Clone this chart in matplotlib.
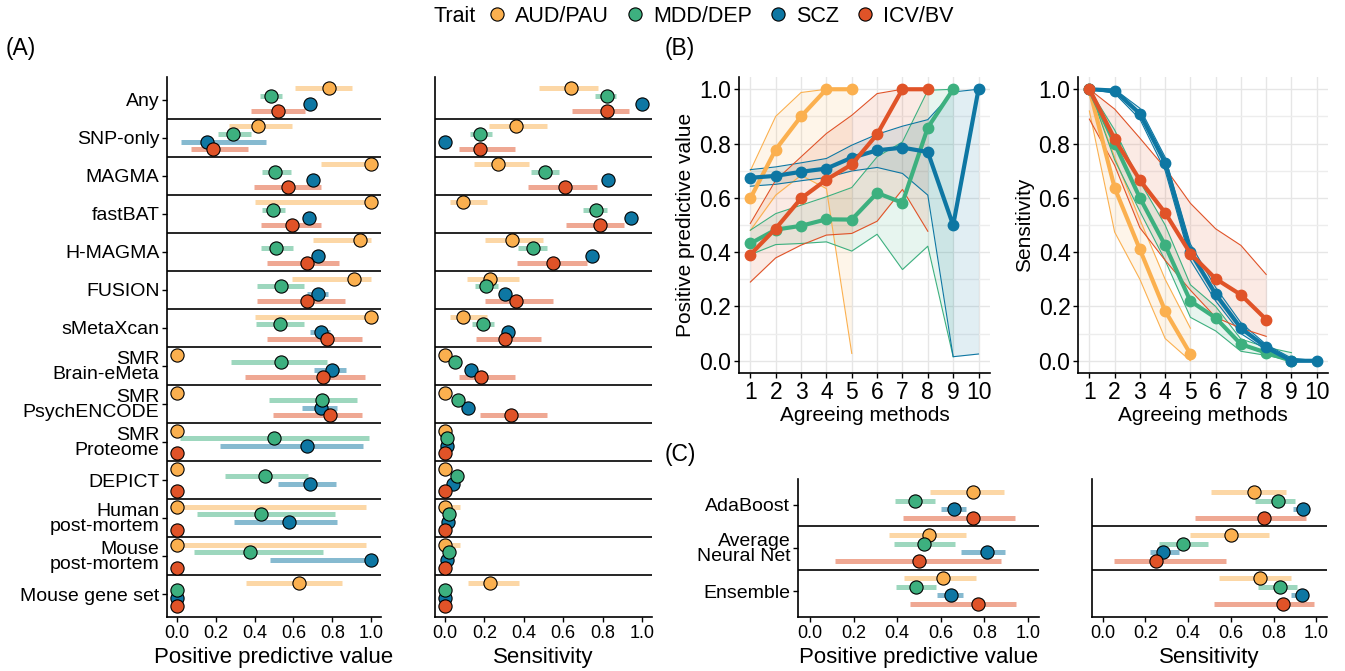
import numpy as np
import matplotlib
matplotlib.use("Agg")
import matplotlib.pyplot as plt
from matplotlib.lines import Line2D
from matplotlib.ticker import MultipleLocator

plt.rcParams['font.family'] = ['Liberation Sans', 'DejaVu Sans']

nan = np.nan

traits = ["AUD/PAU", "MDD/DEP", "SCZ", "ICV/BV"]
colors = {"AUD/PAU": "#FBB04F", "MDD/DEP": "#3DB07F", "SCZ": "#0E77A3", "ICV/BV": "#E05328"}

methods = ["Any", "SNP-only", "MAGMA", "fastBAT", "H-MAGMA", "FUSION", "sMetaXcan",
           "SMR\nBrain-eMeta", "SMR\nPsychENCODE", "SMR\nProteome", "DEPICT",
           "Human\npost-mortem", "Mouse\npost-mortem", "Mouse gene set"]

# (A) positive predictive value per method
ppv_est = {
    "AUD/PAU": [0.78, 0.42, 1.0, 1.0, 0.94, 0.91, 1.0, 0, 0, 0, 0, 0, 0, 0.63],
    "MDD/DEP": [0.485, 0.29, 0.507, 0.493, 0.51, 0.537, 0.532, 0.534, 0.748, 0.50, 0.454, 0.434, 0.378, 0.0],
    "SCZ":     [0.684, 0.157, 0.70, 0.68, 0.724, 0.726, 0.743, 0.798, 0.74, 0.668, 0.684, 0.575, 1.0, 0.0],
    "ICV/BV":  [0.52, 0.187, 0.57, 0.59, 0.667, 0.667, 0.774, 0.75, 0.786, 0, 0, 0, 0, 0],
}
ppv_lo = {
    "AUD/PAU": [0.61, 0.27, 0.74, 0.40, 0.70, 0.59, 0.40, nan, nan, nan, nan, 0.0, 0.0, 0.355],
    "MDD/DEP": [0.43, 0.21, 0.44, 0.44, 0.434, 0.413, 0.405, 0.279, 0.476, 0.015, 0.247, 0.102, 0.088, nan],
    "SCZ":     [0.66, 0.02, 0.68, 0.66, 0.70, 0.667, 0.687, 0.706, 0.646, 0.224, 0.52, 0.292, 0.48, nan],
    "ICV/BV":  [0.38, 0.075, 0.395, 0.434, 0.463, 0.41, 0.463, 0.352, 0.493, nan, nan, nan, nan, nan],
}
ppv_hi = {
    "AUD/PAU": [0.90, 0.59, 1.0, 1.0, 1.0, 1.0, 1.0, nan, nan, nan, nan, 0.973, 0.973, 0.85],
    "MDD/DEP": [0.54, 0.38, 0.585, 0.556, 0.595, 0.655, 0.655, 0.772, 0.929, 0.986, 0.677, 0.815, 0.753, nan],
    "SCZ":     [0.71, 0.46, 0.72, 0.70, 0.75, 0.777, 0.79, 0.869, 0.825, 0.957, 0.82, 0.823, 1.0, nan],
    "ICV/BV":  [0.66, 0.366, 0.74, 0.74, 0.835, 0.866, 0.95, 0.969, 0.952, nan, nan, nan, nan, nan],
}

# (A) sensitivity per method
sens_est = {
    "AUD/PAU": [0.638, 0.36, 0.272, 0.09, 0.34, 0.228, 0.09, 0, 0, 0, 0, 0, 0, 0.227],
    "MDD/DEP": [0.82, 0.178, 0.506, 0.766, 0.445, 0.208, 0.191, 0.05, 0.066, 0.01, 0.06, 0.019, 0.02, 0.0],
    "SCZ":     [0.998, 0.0, 0.827, 0.944, 0.745, 0.306, 0.321, 0.132, 0.117, 0.01, 0.042, 0.015, 0.013, 0.0],
    "ICV/BV":  [0.82, 0.18, 0.607, 0.789, 0.547, 0.362, 0.303, 0.181, 0.335, 0, 0, 0, 0, 0],
}
sens_lo = {
    "AUD/PAU": [0.479, 0.225, 0.149, 0.025, 0.206, 0.113, 0.025, nan, nan, nan, nan, 0.0, 0.0, 0.115],
    "MDD/DEP": [0.76, 0.127, 0.435, 0.70, 0.372, 0.152, 0.14, 0.03, 0.045, nan, 0.04, nan, nan, nan],
    "SCZ":     [nan] * 14,
    "ICV/BV":  [0.646, 0.07, 0.421, 0.614, 0.364, 0.205, 0.157, 0.07, 0.18, nan, nan, nan, nan, nan],
}
sens_hi = {
    "AUD/PAU": [0.775, 0.52, 0.426, 0.215, 0.50, 0.377, 0.215, nan, nan, nan, nan, 0.076, 0.076, 0.376],
    "MDD/DEP": [0.87, 0.24, 0.58, 0.824, 0.516, 0.27, 0.25, 0.07, 0.09, nan, 0.08, nan, nan, nan],
    "SCZ":     [nan] * 14,
    "ICV/BV":  [0.932, 0.355, 0.77, 0.91, 0.72, 0.548, 0.486, 0.354, 0.516, nan, nan, nan, nan, nan],
}

# (B) agreeing methods
agree_x = {
    "AUD/PAU": [1, 2, 3, 4, 5],
    "MDD/DEP": [1, 2, 3, 4, 5, 6, 7, 8, 9],
    "SCZ":     [1, 2, 3, 4, 5, 6, 7, 8, 9, 10],
    "ICV/BV":  [1, 2, 3, 4, 5, 6, 7, 8],
}
agree_ppv = {
    "AUD/PAU": [0.598, 0.778, 0.90, 1.0, 1.0],
    "MDD/DEP": [0.432, 0.483, 0.497, 0.521, 0.52, 0.618, 0.582, 0.859, 1.0],
    "SCZ":     [0.674, 0.681, 0.696, 0.708, 0.748, 0.775, 0.785, 0.769, 0.499, 1.0],
    "ICV/BV":  [0.391, 0.487, 0.598, 0.667, 0.723, 0.834, 1.0, 1.0],
}
agree_ppv_lo = {
    "AUD/PAU": [0.48, 0.61, 0.683, 0.634, 0.027],
    "MDD/DEP": [0.391, 0.428, 0.432, 0.438, 0.404, 0.466, 0.336, 0.422, 0.015],
    "SCZ":     [0.643, 0.650, 0.663, 0.675, 0.699, 0.712, 0.69, 0.61, 0.015, 0.025],
    "ICV/BV":  [0.29, 0.379, 0.426, 0.463, 0.469, 0.514, 0.631, 0.477],
}
agree_ppv_hi = {
    "AUD/PAU": [0.70, 0.90, 0.988, 1.0, 1.0],
    "MDD/DEP": [0.481, 0.542, 0.573, 0.604, 0.638, 0.751, 0.806, 0.996, 1.0],
    "SCZ":     [0.704, 0.714, 0.729, 0.745, 0.794, 0.834, 0.864, 0.888, 0.99, 1.0],
    "ICV/BV":  [0.506, 0.665, 0.751, 0.837, 0.904, 0.984, 1.0, 1.0],
}
agree_sens = {
    "AUD/PAU": [1.0, 0.637, 0.41, 0.184, 0.025],
    "MDD/DEP": [1.0, 0.80, 0.60, 0.425, 0.22, 0.158, 0.061, 0.03, 0.0],
    "SCZ":     [1.0, 0.995, 0.91, 0.73, 0.40, 0.245, 0.12, 0.05, 0.0, 0.0],
    "ICV/BV":  [1.0, 0.817, 0.665, 0.545, 0.395, 0.302, 0.243, 0.152],
}
agree_sens_lo = {
    "AUD/PAU": [0.92, 0.474, 0.30, 0.082, 0.0],
    "MDD/DEP": [1.0, 0.74, 0.55, 0.37, 0.16, 0.11, 0.035, 0.02, 0.0],
    "SCZ":     [1.0, 0.985, 0.89, 0.70, 0.37, 0.22, 0.10, 0.04, 0.0, 0.0],
    "ICV/BV":  [0.89, 0.72, 0.49, 0.37, 0.26, 0.16, 0.12, 0.09],
}
agree_sens_hi = {
    "AUD/PAU": [1.0, 0.75, 0.52, 0.30, 0.12],
    "MDD/DEP": [1.0, 0.85, 0.66, 0.50, 0.28, 0.20, 0.08, 0.05, 0.03],
    "SCZ":     [1.0, 1.0, 0.93, 0.75, 0.43, 0.27, 0.14, 0.06, 0.01, 0.0],
    "ICV/BV":  [1.0, 0.927, 0.82, 0.71, 0.58, 0.486, 0.425, 0.318],
}

# (C) machine learning models
models = ["AdaBoost", "Average\nNeural Net", "Ensemble"]
ml_ppv_est = {
    "AUD/PAU": [0.747, 0.545, 0.609],
    "MDD/DEP": [0.481, 0.525, 0.484],
    "SCZ":     [0.66, 0.813, 0.648],
    "ICV/BV":  [0.747, 0.499, 0.77],
}
ml_ppv_lo = {
    "AUD/PAU": [0.548, 0.36, 0.433],
    "MDD/DEP": [0.392, 0.383, 0.395],
    "SCZ":     [0.599, 0.694, 0.583],
    "ICV/BV":  [0.426, 0.115, 0.459],
}
ml_ppv_hi = {
    "AUD/PAU": [0.89, 0.715, 0.763],
    "MDD/DEP": [0.573, 0.663, 0.576],
    "SCZ":     [0.717, 0.896, 0.701],
    "ICV/BV":  [0.942, 0.877, 0.946],
}
ml_sens_est = {
    "AUD/PAU": [0.708, 0.602, 0.738],
    "MDD/DEP": [0.819, 0.375, 0.831],
    "SCZ":     [0.9375, 0.284, 0.933],
    "ICV/BV":  [0.756, 0.25, 0.844],
}
ml_sens_lo = {
    "AUD/PAU": [0.508, 0.41, 0.545],
    "MDD/DEP": [0.714, 0.264, 0.725],
    "SCZ":     [0.89, 0.222, 0.88],
    "ICV/BV":  [0.43, 0.053, 0.519],
}
ml_sens_hi = {
    "AUD/PAU": [0.858, 0.778, 0.883],
    "MDD/DEP": [0.902, 0.495, 0.909],
    "SCZ":     [0.96, 0.355, 0.96],
    "ICV/BV":  [0.952, 0.577, 0.9875],
}

offsets = {"AUD/PAU": -0.3, "MDD/DEP": -0.1, "SCZ": 0.1, "ICV/BV": 0.3}
draw_order = ["SCZ", "AUD/PAU", "MDD/DEP", "ICV/BV"]


def style_axes(ax, tick_size):
    for s in ["top", "right"]:
        ax.spines[s].set_visible(False)
    for s in ["left", "bottom"]:
        ax.spines[s].set_linewidth(1.2)
    ax.tick_params(axis="both", which="major", direction="out", length=3.5, width=1.0,
                   labelsize=tick_size, colors="black", pad=2)


def dot_panel(ax, cats, est, lo, hi, xlabel, show_cats):
    n = len(cats)
    ypos = np.arange(n)
    for t in traits:
        y = ypos + offsets[t]
        for yi, a, b in zip(y, lo[t], hi[t]):
            if not np.isnan(a):
                ax.plot([a, b], [yi, yi], color=colors[t], lw=3.6, alpha=0.5,
                        solid_capstyle="butt", zorder=2)
    for i in range(n - 1):
        ax.axhline(i + 0.5, color="black", lw=1.2, zorder=1)
    for t in draw_order:
        ax.plot(est[t], ypos + offsets[t], "o", ms=9.5, mfc=colors[t], mec="black",
                mew=0.8, zorder=3, clip_on=False)
    ax.set_ylim(n - 0.4, -0.6)
    ax.set_xlim(-0.05, 1.05)
    ax.set_xticks([0, 0.2, 0.4, 0.6, 0.8, 1.0])
    ax.set_xticklabels(["0.0", "0.2", "0.4", "0.6", "0.8", "1.0"])
    ax.set_yticks(ypos)
    style_axes(ax, 13)
    if show_cats:
        ax.set_yticklabels(cats, fontsize=14, linespacing=0.85)
    else:
        ax.set_yticklabels([])
        ax.tick_params(axis="y", length=0)
    ax.set_xlabel(xlabel, fontsize=16, labelpad=4)


def agree_panel(ax, vals, lo, hi, ylabel):
    for t in traits:
        x = agree_x[t]
        ax.fill_between(x, lo[t], hi[t], color=colors[t], alpha=0.12, lw=0, zorder=1)
        ax.plot(x, lo[t], color=colors[t], lw=0.8, zorder=2)
        ax.plot(x, hi[t], color=colors[t], lw=0.8, zorder=2)
    for t in traits:
        ax.plot(agree_x[t], vals[t], "-o", color=colors[t], lw=3.0, ms=7.5, zorder=3)
    ax.set_xlim(0.55, 10.45)
    ax.set_ylim(-0.045, 1.045)
    ax.set_xticks(range(1, 11))
    ax.set_yticks([0, 0.2, 0.4, 0.6, 0.8, 1.0])
    ax.set_yticklabels(["0.0", "0.2", "0.4", "0.6", "0.8", "1.0"])
    ax.yaxis.set_minor_locator(MultipleLocator(0.1))
    ax.grid(True, which="major", color="#E6E6E6", lw=1.0, zorder=0)
    ax.grid(True, which="minor", axis="y", color="#EDEDED", lw=1.0, zorder=0)
    ax.set_axisbelow(True)
    style_axes(ax, 16.5)
    ax.tick_params(which="minor", length=0)
    ax.set_xlabel("Agreeing methods", fontsize=15, labelpad=2)
    ax.set_ylabel(ylabel, fontsize=15, labelpad=3)


fig = plt.figure(figsize=(13.45, 6.71), dpi=100)

ax_a1 = fig.add_axes([0.1242, 0.0805, 0.1591, 0.8048])
ax_a2 = fig.add_axes([0.3234, 0.0805, 0.1613, 0.8048])
ax_b1 = fig.add_axes([0.5494, 0.4441, 0.1866, 0.4411])
ax_b2 = fig.add_axes([0.8015, 0.4441, 0.1859, 0.4411])
ax_c1 = fig.add_axes([0.5933, 0.0805, 0.1792, 0.2057])
ax_c2 = fig.add_axes([0.8119, 0.0805, 0.1747, 0.2057])

dot_panel(ax_a1, methods, ppv_est, ppv_lo, ppv_hi, "Positive predictive value", True)
dot_panel(ax_a2, methods, sens_est, sens_lo, sens_hi, "Sensitivity", False)
agree_panel(ax_b1, agree_ppv, agree_ppv_lo, agree_ppv_hi, "Positive predictive value")
agree_panel(ax_b2, agree_sens, agree_sens_lo, agree_sens_hi, "Sensitivity")
dot_panel(ax_c1, models, ml_ppv_est, ml_ppv_lo, ml_ppv_hi, "Positive predictive value", True)
dot_panel(ax_c2, models, ml_sens_est, ml_sens_lo, ml_sens_hi, "Sensitivity", False)
ax_c1.set_xlim(-0.055, 1.05)

fig.text(0.004, 0.928, "(A)", fontsize=16.5, va="center")
fig.text(0.494, 0.928, "(B)", fontsize=16.5, va="center")
fig.text(0.494, 0.322, "(C)", fontsize=16.5, va="center")

handles = [Line2D([], [], ls="none", marker="o", ms=9.5, mfc=colors[t], mec="black", mew=0.8)
           for t in traits]
fig.text(433 / 1345, 1 - 16 / 671, "Trait", fontsize=15.5, va="center", ha="left")
fig.legend(handles, traits, loc="center left", bbox_to_anchor=(486 / 1345, 1 - 16 / 671),
           ncol=4, frameon=False, fontsize=15.5, handlelength=1.0, handletextpad=0.35,
           columnspacing=0.7, borderpad=0, borderaxespad=0)

fig.savefig("out.png", dpi=100)
